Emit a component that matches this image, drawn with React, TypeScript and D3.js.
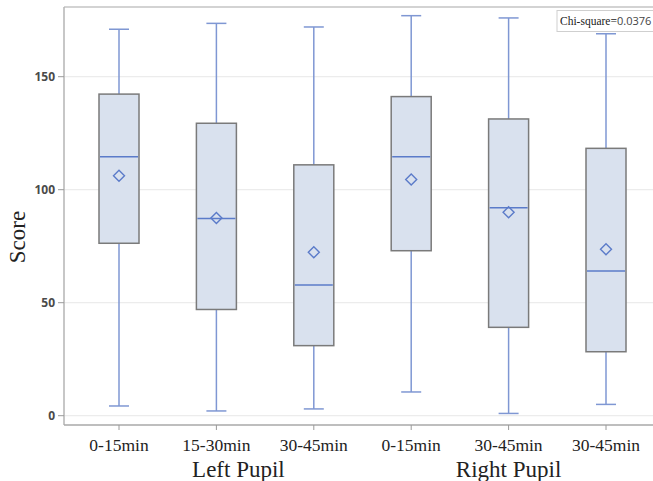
import React from "react";
import * as d3 from "d3";

const categories = ["0-15min", "15-30min", "30-45min", "0-15min", "30-45min", "30-45min"];
const groups = ["Left Pupil", "Right Pupil"];
const whiskerHigh = [171, 173.6, 172, 177, 176, 169];
const q3Values = [142.3, 129.4, 111, 141.2, 131.3, 118.3];
const medianValues = [114.6, 87.3, 57.8, 114.6, 92, 64];
const meanValues = [106.2, 87.5, 72.3, 104.5, 90, 73.6];
const q1Values = [76.3, 47, 31, 73, 39.1, 28.3];
const whiskerLow = [4.3, 2.1, 3, 10.5, 1, 5];
const yTicks = [0, 50, 100, 150];
const chiLabel = "Chi-square=";
const chiValue = "0.0376";

const W = 653;
const H = 481;
const left = 64;
const top = 7;
const bottom = 425;
const right = 700;

export default function App() {
  const y = d3.scaleLinear().domain([0, 150]).range([415.7, 76.7]);
  const idx = categories.map((_, i) => String(i));
  const x = d3.scalePoint<string>().domain(idx).range([119, 606]);
  const boxW = 40;
  const capW = 20;
  const whiskerColor = "#7f97d3";
  const blue = "#5b7bc9";
  const boxStroke = "#7a7a7a";
  const fill = "#d9e1ee";

  return (
    <svg
      width={W}
      height={H}
      style={{ position: "absolute", left: 0, top: 0, background: "#fff" }}
    >
      {/* grid */}
      {yTicks.map((t) => (
        <line key={"g" + t} x1={left} x2={right} y1={y(t)} y2={y(t)} stroke="#ececec" strokeWidth={1.2} />
      ))}
      {/* frame */}
      <line x1={left} x2={right} y1={top} y2={top} stroke="#c4c4c4" strokeWidth={1.5} />
      <line x1={left} x2={left} y1={top} y2={bottom} stroke="#b4b4b4" strokeWidth={1.5} />
      <line x1={left} x2={right} y1={bottom} y2={bottom} stroke="#a8a8a8" strokeWidth={1.5} />

      {/* y ticks */}
      {yTicks.map((t) => (
        <g key={"t" + t}>
          <line x1={left - 6} x2={left} y1={y(t)} y2={y(t)} stroke="#9a9a9a" strokeWidth={1} />
          <text
            x={left - 9}
            y={y(t)}
            dy="0.35em"
            textAnchor="end"
            fontFamily="'Open Sans', sans-serif"
            fontWeight={700}
            fontSize={12}
            fill="#4a4a4a"
          >
            {t}
          </text>
        </g>
      ))}

      {/* x ticks and labels */}
      {idx.map((k, i) => (
        <g key={"x" + k}>
          <line x1={x(k)!} x2={x(k)!} y1={bottom} y2={bottom + 5} stroke="#9a9a9a" strokeWidth={1} />
          <text
            x={x(k)!}
            y={451}
            textAnchor="middle"
            fontFamily="'Liberation Serif', 'Times New Roman', serif"
            fontSize={17.5}
            fill="#222"
          >
            {categories[i]}
          </text>
        </g>
      ))}
      <text
        x={x("1")! + 22}
        y={477}
        textAnchor="middle"
        fontFamily="'Liberation Serif', 'Times New Roman', serif"
        fontSize={23}
        fill="#222"
      >
        {groups[0]}
      </text>
      <text
        x={x("4")!}
        y={477}
        textAnchor="middle"
        fontFamily="'Liberation Serif', 'Times New Roman', serif"
        fontSize={23}
        fill="#222"
      >
        {groups[1]}
      </text>

      {/* y label */}
      <text
        transform={`translate(25,${237}) rotate(-90)`}
        textAnchor="middle"
        fontFamily="'Liberation Serif', 'Times New Roman', serif"
        fontSize={23}
        fill="#222"
      >
        Score
      </text>

      {/* boxes */}
      {idx.map((k, i) => {
        const cx = x(k)!;
        return (
          <g key={"b" + k}>
            <line x1={cx} x2={cx} y1={y(whiskerHigh[i])} y2={y(q3Values[i])} stroke={whiskerColor} strokeWidth={1.5} />
            <line x1={cx} x2={cx} y1={y(q1Values[i])} y2={y(whiskerLow[i])} stroke={whiskerColor} strokeWidth={1.5} />
            <line x1={cx - capW / 2} x2={cx + capW / 2} y1={y(whiskerHigh[i])} y2={y(whiskerHigh[i])} stroke={whiskerColor} strokeWidth={1.5} />
            <line x1={cx - capW / 2} x2={cx + capW / 2} y1={y(whiskerLow[i])} y2={y(whiskerLow[i])} stroke={whiskerColor} strokeWidth={1.5} />
            <rect
              x={cx - boxW / 2}
              y={y(q3Values[i])}
              width={boxW}
              height={y(q1Values[i]) - y(q3Values[i])}
              fill={fill}
              stroke={boxStroke}
              strokeWidth={1.5}
            />
            <line x1={cx - boxW / 2 + 1} x2={cx + boxW / 2 - 1} y1={y(medianValues[i])} y2={y(medianValues[i])} stroke={blue} strokeWidth={1.5} />
            <path
              d={`M${cx},${y(meanValues[i]) - 5.5} L${cx + 5.5},${y(meanValues[i])} L${cx},${y(meanValues[i]) + 5.5} L${cx - 5.5},${y(meanValues[i])} Z`}
              fill="none"
              stroke={blue}
              strokeWidth={1.4}
            />
          </g>
        );
      })}

      {/* chi-square annotation */}
      <rect x={557} y={10.5} width={110} height={21} fill="#fff" stroke="#cfcfcf" strokeWidth={1} />
      <text x={560} y={25} fontSize={11.5} fill="#222">
        <tspan fontFamily="'Liberation Serif', 'Times New Roman', serif">{chiLabel}</tspan>
        <tspan fontFamily="'Open Sans', sans-serif" fontSize={11} fill="#444">{chiValue}</tspan>
      </text>
    </svg>
  );
}
